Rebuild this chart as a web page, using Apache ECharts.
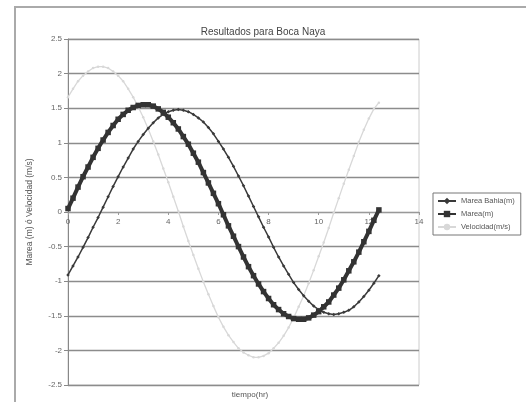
<!DOCTYPE html>
<html>
<head>
<meta charset="utf-8">
<script src="https://cdn.jsdelivr.net/npm/echarts@6/dist/echarts.min.js"></script>
<style>html,body{margin:0;padding:0;background:#fff}#c{width:526px;height:402px}</style>
</head>
<body>
<div id="c"></div>
<script>
var tiempo = [0,0.2,0.4,0.6,0.8,1,1.2,1.4,1.6,1.8,2,2.2,2.4,2.6,2.8,3,3.2,3.4,3.6,3.8,4,4.2,4.4,4.6,4.8,5,5.2,5.4,5.6,5.8,6,6.2,6.4,6.6,6.8,7,7.2,7.4,7.6,7.8,8,8.2,8.4,8.6,8.8,9,9.2,9.4,9.6,9.8,10,10.2,10.4,10.6,10.8,11,11.2,11.4,11.6,11.8,12,12.2,12.4];
var mareaBahia = [-0.91,-0.78,-0.65,-0.51,-0.37,-0.22,-0.08,0.07,0.22,0.37,0.51,0.65,0.78,0.91,1.02,1.12,1.21,1.29,1.36,1.41,1.45,1.47,1.48,1.47,1.45,1.41,1.36,1.30,1.22,1.13,1.02,0.91,0.79,0.66,0.52,0.38,0.23,0.08,-0.07,-0.22,-0.36,-0.51,-0.65,-0.78,-0.90,-1.02,-1.12,-1.21,-1.29,-1.36,-1.41,-1.45,-1.47,-1.48,-1.47,-1.45,-1.42,-1.37,-1.30,-1.22,-1.13,-1.03,-0.92];
var marea = [0.05,0.20,0.36,0.51,0.65,0.79,0.92,1.04,1.15,1.25,1.34,1.41,1.47,1.51,1.54,1.55,1.55,1.53,1.49,1.44,1.37,1.29,1.20,1.09,0.98,0.85,0.72,0.57,0.42,0.27,0.12,-0.04,-0.20,-0.35,-0.50,-0.65,-0.79,-0.92,-1.04,-1.15,-1.25,-1.34,-1.41,-1.47,-1.51,-1.54,-1.55,-1.55,-1.53,-1.49,-1.44,-1.37,-1.30,-1.20,-1.10,-0.98,-0.85,-0.72,-0.58,-0.43,-0.28,-0.12,0.03];
var velocidad = [1.66,1.78,1.89,1.97,2.03,2.08,2.10,2.10,2.08,2.03,1.97,1.89,1.78,1.66,1.52,1.37,1.20,1.02,0.83,0.63,0.43,0.22,0.01,-0.21,-0.42,-0.62,-0.82,-1.01,-1.19,-1.36,-1.52,-1.66,-1.78,-1.88,-1.97,-2.03,-2.07,-2.10,-2.10,-2.08,-2.04,-1.97,-1.89,-1.79,-1.67,-1.53,-1.37,-1.21,-1.03,-0.84,-0.64,-0.44,-0.23,-0.01,0.20,0.41,0.61,0.81,1.01,1.19,1.35,1.49,1.58];
var seriesNames = ['Marea Bahia(m)','Marea(m)','Velocidad(m/s)'];

function pairs(vals){ return tiempo.map(function(t,i){ return [t, vals[i]]; }); }

var chart = echarts.init(document.getElementById('c'), null, {renderer:'canvas'});
chart.setOption({
  animation:false,
  backgroundColor:'#fff',
  title:[
    {text:'Resultados para Boca Naya', left:258, top:22, textAlign:'center',
     textStyle:{fontFamily:'Liberation Sans, Arial', fontSize:10, fontWeight:'normal', color:'#444'}},
    {text:'tiempo(hr)', left:245, top:386, textAlign:'center',
     textStyle:{fontFamily:'Liberation Sans, Arial', fontSize:8, fontWeight:'normal', color:'#555'}}
  ],
  graphic:[
    {type:'rect', shape:{x:15, y:7, width:540, height:420}, style:{fill:'none', stroke:'#aaa', lineWidth:2}, silent:true}
  ],
  legend:{
    orient:'vertical', left:433, top:193, padding:[4,6,4,4], itemGap:5,
    itemWidth:18, itemHeight:8,
    borderColor:'#777', borderWidth:1,
    textStyle:{fontFamily:'Liberation Sans, Arial', fontSize:7.5, color:'#555'},
    data:seriesNames
  },
  grid:{left:68, right:107, top:39, bottom:17, show:true, borderColor:'#ccc', borderWidth:1},
  xAxis:{
    type:'value', min:0, max:14, interval:2, position:'bottom', offset:-173,
    axisLine:{onZero:false, lineStyle:{color:'#999', width:1}},
    axisTick:{show:true, length:3, lineStyle:{color:'#999'}},
    axisLabel:{fontFamily:'Liberation Sans, Arial', fontSize:8, color:'#666', margin:6},
    splitLine:{show:false}
  },
  yAxis:{
    type:'value', min:-2.5, max:2.5, interval:0.5,
    name:'Marea (m) ó Velocidad (m/s)', nameLocation:'middle', nameGap:34, nameRotate:90,
    nameTextStyle:{fontFamily:'Liberation Sans, Arial', fontSize:8.5, color:'#555'},
    axisLine:{show:true, lineStyle:{color:'#888', width:1}},
    axisTick:{show:true, length:4, lineStyle:{color:'#888'}},
    axisLabel:{fontFamily:'Liberation Sans, Arial', fontSize:8, color:'#666', margin:6},
    splitLine:{show:true, lineStyle:{color:'#8c8c8c', width:1.3}}
  },
  series:[
    {name:seriesNames[0], type:'line', data:pairs(mareaBahia), showSymbol:true, symbol:'diamond', symbolSize:3.5,
     lineStyle:{color:'#3a3a3a', width:1.5}, itemStyle:{color:'#3a3a3a'}, z:3},
    {name:seriesNames[1], type:'line', data:pairs(marea), showSymbol:true, symbol:'rect', symbolSize:5.5,
     lineStyle:{color:'#333', width:4}, itemStyle:{color:'#333'}, z:4},
    {name:seriesNames[2], type:'line', data:pairs(velocidad), showSymbol:true, symbol:'circle', symbolSize:2.5,
     lineStyle:{color:'#d8d8d8', width:1.3}, itemStyle:{color:'#d8d8d8'}, z:2}
  ]
});
</script>
</body>
</html>
